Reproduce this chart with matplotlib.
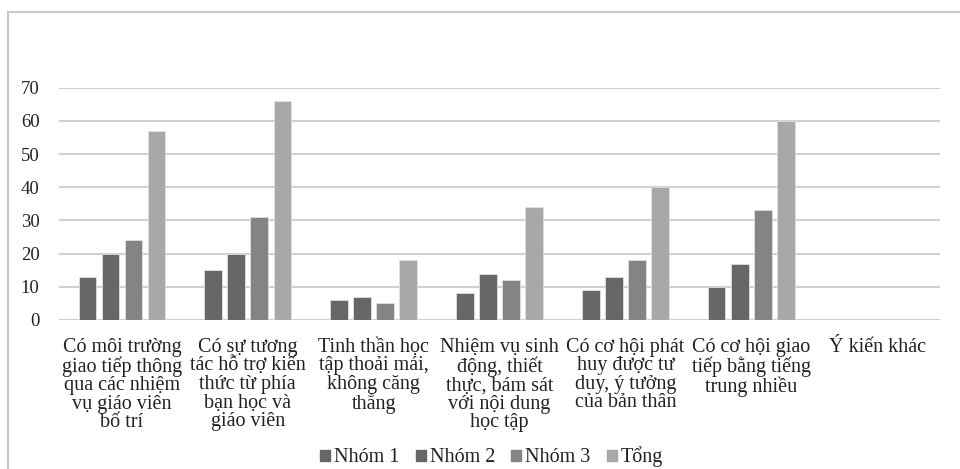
import numpy as np
import matplotlib
matplotlib.use('Agg')
import matplotlib.pyplot as plt
from matplotlib.lines import Line2D

plt.rcParams['font.family'] = ['Liberation Serif', 'DejaVu Serif']

# data
categories = [
    'Có môi trường\ngiao tiếp thông\nqua các nhiệm\nvụ giáo viên\nbố trí',
    'Có sự tương\ntác hỗ trợ kiến\nthức từ phía\nbạn học và\ngiáo viên',
    'Tinh thần học\ntập thoải mái,\nkhông căng\nthẳng',
    'Nhiệm vụ sinh\nđộng, thiết\nthực, bám sát\nvới nội dung\nhọc tập',
    'Có cơ hội phát\nhuy được tư\nduy, ý tưởng\ncủa bản thân',
    'Có cơ hội giao\ntiếp bằng tiếng\ntrung nhiều',
    'Ý kiến khác',
]
series_names = ['Nhóm 1', 'Nhóm 2', 'Nhóm 3', 'Tổng']
nhom1 = [13, 15, 6, 8, 9, 10, 0]
nhom2 = [20, 20, 7, 14, 13, 17, 0]
nhom3 = [24, 31, 5, 12, 18, 33, 0]
tong = [57, 66, 18, 34, 40, 60, 0]
colors = ['#676767', '#676767', '#848484', '#a8a8a8']

fig = plt.figure(figsize=(9.6, 4.69), dpi=100)
ax = fig.add_axes([59/960, 1-320/469, (940-59)/960, (320-87.7)/469])

x = np.arange(len(categories))
w = 0.14
step = 0.183
for i, (vals, name) in enumerate(zip([nhom1, nhom2, nhom3, tong], series_names)):
    ax.bar(x + (i - 1.5)*step, vals, w, color=colors[i], label=name,
           edgecolor='#e0e0e0', linewidth=0.6)

ax.set_xlim(-0.5, len(categories) - 0.5)
ax.set_ylim(0, 70)
ax.set_yticks(range(0, 71, 10))
ax.yaxis.grid(True, color='#d0d0d0', linewidth=1.5)
ax.set_axisbelow(True)
for s in ['top', 'right', 'left', 'bottom']:
    ax.spines[s].set_visible(False)
ax.tick_params(axis='y', length=0, pad=14, labelsize=13.5, labelcolor='#222222')
ax.tick_params(axis='x', length=0, pad=13)
ax.set_xticks(x)
ax.set_xticklabels(categories, fontsize=14.5, linespacing=0.96, color='#222222')

handles = [plt.Rectangle((0, 0), 1, 1, color=c) for c in colors]
fig.legend(handles, series_names, loc='center', bbox_to_anchor=(0.512, 1-457/469),
           ncol=4, frameon=False, fontsize=14.5, handlelength=0.5, handleheight=0.5,
           handletextpad=0.2, columnspacing=0.8, labelcolor='#222222')

# frame of the original chart box
fig.add_artist(Line2D([8/960, 8/960], [0, 1-12/469], color='#c8c8c8', linewidth=1.5))
fig.add_artist(Line2D([8/960, 1], [1-12/469, 1-12/469], color='#c8c8c8', linewidth=1.5))

fig.savefig('out.png', dpi=100)
